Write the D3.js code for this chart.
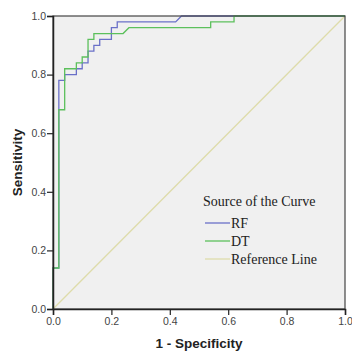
<!DOCTYPE html>
<html>
<head>
<meta charset="utf-8">
<script src="https://cdn.jsdelivr.net/npm/d3@7"></script>
<style>
  body { margin: 0; background: #fff; }
</style>
</head>
<body>
<div class="vis-roc"></div>
<script>
// ROC points: [1 - specificity, sensitivity]
const rfFpr = [0, 0, 0.02, 0.02, 0.04, 0.04, 0.08, 0.08, 0.10, 0.10, 0.12, 0.12, 0.14, 0.14, 0.16, 0.16, 0.20, 0.20, 0.22, 0.22, 0.42, 0.44, 1.0];
const rfTpr = [0, 0.14, 0.14, 0.78, 0.78, 0.80, 0.80, 0.82, 0.82, 0.84, 0.84, 0.88, 0.88, 0.90, 0.90, 0.92, 0.92, 0.96, 0.96, 0.98, 0.98, 1.0, 1.0];
const dtFpr = [0, 0, 0.02, 0.02, 0.04, 0.04, 0.08, 0.08, 0.10, 0.10, 0.12, 0.12, 0.14, 0.14, 0.24, 0.26, 0.54, 0.54, 0.62, 0.62, 1.0];
const dtTpr = [0, 0.14, 0.14, 0.68, 0.68, 0.82, 0.82, 0.84, 0.84, 0.86, 0.86, 0.92, 0.92, 0.94, 0.94, 0.96, 0.96, 0.98, 0.98, 1.0, 1.0];
const refFpr = [0, 1];
const refTpr = [0, 1];
const tickValues = [0, 0.2, 0.4, 0.6, 0.8, 1.0];
const legendNames = ["RF", "DT", "Reference Line"];
const seriesColors = ["#6a70c8", "#5cc05c", "#dedcaa"];

const draw = () => {
    let margin = { top: 16, right: 7, bottom: 43, left: 53 };
    const width = 352 - margin.left - margin.right;
    const height = 352 - margin.top - margin.bottom;

    let svg = d3.select(".vis-roc")
        .append("svg")
        .attr("width", 352)
        .attr("height", 352)
        .append("g")
        .attr("transform", "translate(" + margin.left + "," + margin.top + ")");

    let x = d3.scaleLinear().domain([0, 1]).range([0, width]);
    let y = d3.scaleLinear().domain([0, 1]).range([height, 0]);

    // plot background
    svg.append("rect")
        .attr("width", width)
        .attr("height", height)
        .attr("fill", "#f0f0f0");

    const series = [
        { name: legendNames[2], fpr: refFpr, tpr: refTpr, color: seriesColors[2] },
        { name: legendNames[0], fpr: rfFpr, tpr: rfTpr, color: seriesColors[0] },
        { name: legendNames[1], fpr: dtFpr, tpr: dtTpr, color: seriesColors[1] }
    ];

    let line = d3.line()
        .x(function (d) { return x(d[0]); })
        .y(function (d) { return y(d[1]); });

    series.forEach(function (s) {
        svg.append("path")
            .datum(d3.zip(s.fpr, s.tpr))
            .attr("fill", "none")
            .attr("stroke", s.color)
            .attr("stroke-width", 1.3)
            .attr("d", line);
    });

    // frame on top and right
    svg.append("rect")
        .attr("width", width)
        .attr("height", height)
        .attr("fill", "none")
        .attr("stroke", "#444")
        .attr("stroke-width", 1.2);

    // axes
    let xAxis = svg.append("g")
        .attr("transform", "translate(0," + height + ")")
        .call(d3.axisBottom(x).tickValues(tickValues).tickSize(6).tickPadding(3).tickFormat(d3.format(".1f")));
    let yAxis = svg.append("g")
        .call(d3.axisLeft(y).tickValues(tickValues).tickSize(6).tickPadding(1).tickFormat(d3.format(".1f")));

    [xAxis, yAxis].forEach(function (a) {
        a.select(".domain").attr("stroke", "#222").attr("stroke-width", 1.5);
        a.selectAll(".tick line").attr("stroke", "#222").attr("stroke-width", 1.2);
        a.selectAll(".tick text")
            .attr("fill", "#444")
            .style("font-family", "'Liberation Sans', Arial, sans-serif")
            .style("font-size", "10.5px");
    });

    // axis titles
    svg.append("text")
        .attr("x", width / 2)
        .attr("y", height + 39)
        .attr("text-anchor", "middle")
        .style("font-family", "'Liberation Sans', Arial, sans-serif")
        .style("font-weight", "bold")
        .style("font-size", "13.5px")
        .attr("fill", "#222")
        .text("1 - Specificity");

    svg.append("text")
        .attr("transform", "translate(" + (-31) + "," + (height / 2) + ") rotate(-90)")
        .attr("text-anchor", "middle")
        .style("font-family", "'Liberation Sans', Arial, sans-serif")
        .style("font-weight", "bold")
        .style("font-size", "13.5px")
        .attr("fill", "#222")
        .text("Sensitivity");

    // legend
    let legend = svg.append("g")
        .attr("transform", "translate(" + (203 - margin.left) + "," + (206 - margin.top) + ")");
    legend.append("text")
        .attr("x", 0)
        .attr("y", 0)
        .style("font-family", "'Liberation Serif', 'Times New Roman', serif")
        .style("font-size", "14px")
        .attr("fill", "#222")
        .text("Source of the Curve");

    [0, 1, 2].forEach(function (i) {
        let row = legend.append("g").attr("transform", "translate(0," + (17 + i * 18) + ")");
        row.append("line")
            .attr("x1", 2).attr("x2", 27)
            .attr("y1", 0).attr("y2", 0)
            .attr("stroke", seriesColors[i])
            .attr("stroke-width", 1.3);
        row.append("text")
            .attr("x", 28)
            .attr("y", 5)
            .style("font-family", "'Liberation Serif', 'Times New Roman', serif")
            .style("font-size", "14px")
            .attr("fill", "#222")
            .text(legendNames[i]);
    });
};

draw();
</script>
</body>
</html>
